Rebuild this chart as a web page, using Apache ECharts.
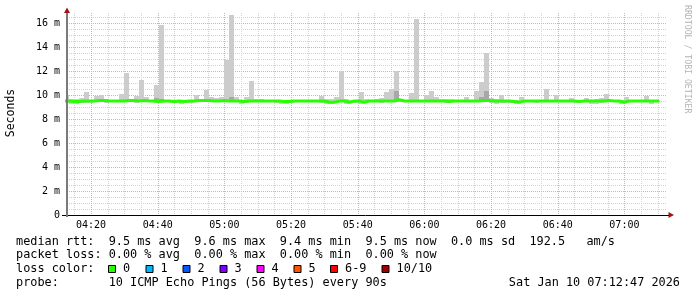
<!DOCTYPE html>
<html><head><meta charset="utf-8">
<script src="https://cdn.jsdelivr.net/npm/echarts@6/dist/echarts.min.js"></script>
<style>html,body{margin:0;padding:0;background:#fff}#c{width:697px;height:297px}</style>
</head><body><div id="c"></div>
<script>
// ---- time frame (minutes after 04:00) ----
const stepMinutes = 1.5;            // 90 s probe step
const firstBarStart = 12;           // 04:12:00
const viewStart = 12 + 47 / 60;     // 04:12:47
const viewEnd = viewStart + 180;    // 07:12:47

const timeLabels = ['04:20','04:40','05:00','05:20','05:40','06:00','06:20','06:40','07:00'];
const minorTimeLabels = ['04:15','04:25','04:30','04:35','04:45','04:50','04:55','05:05','05:10','05:15','05:25','05:30','05:35','05:45','05:50','05:55','06:05','06:10','06:15','06:25','06:30','06:35','06:45','06:50','06:55','07:05','07:10'];
const yMajorTicks = [0, 2, 4, 6, 8, 10, 12, 14, 16];
const yMinorTicks = [0.5,1,1.5,2.5,3,3.5,4.5,5,5.5,6.5,7,7.5,8.5,9,9.5,10.5,11,11.5,12.5,13,13.5,14.5,15,15.5,16.5];

// ---- series values (ms) ----
const medianRtt = [
 9.5,9.45,9.45,9.5,9.5,9.5,9.55,9.55,9.5,9.5,
 9.5,9.5,9.55,9.55,9.5,9.55,9.5,9.5,9.45,9.5,
 9.5,9.45,9.5,9.45,9.5,9.5,9.55,9.55,9.55,9.5,
 9.5,9.55,9.5,9.5,9.5,9.45,9.5,9.5,9.5,9.5,
 9.5,9.5,9.5,9.45,9.45,9.5,9.5,9.5,9.5,9.5,
 9.5,9.5,9.4,9.4,9.5,9.5,9.4,9.5,9.5,9.4,
 9.5,9.5,9.5,9.5,9.5,9.5,9.6,9.5,9.5,9.5,
 9.5,9.5,9.5,9.5,9.5,9.5,9.45,9.5,9.5,9.5,
 9.5,9.5,9.5,9.55,9.55,9.5,9.5,9.5,9.5,9.45,
 9.4,9.5,9.5,9.5,9.5,9.5,9.5,9.5,9.5,9.5,
 9.5,9.5,9.45,9.5,9.5,9.5,9.5,9.5,9.55,9.5,
 9.5,9.4,9.5,9.5,9.5,9.5,9.5,9.5,9.5
];
const smokeMax = [
 10.0,9.65,9.7,9.75,10.25,9.6,9.9,10.0,9.65,9.55,
 9.55,10.05,11.85,9.65,9.9,11.25,9.8,9.55,10.85,15.85,
 9.6,9.55,9.55,9.6,9.55,9.6,10.0,9.65,10.4,9.8,
 9.75,9.8,12.9,16.7,9.8,9.5,9.8,11.15,9.65,9.65,
 9.6,9.6,9.6,9.55,9.5,9.55,9.6,9.6,9.6,9.6,
 9.55,9.9,9.65,9.65,9.8,12.0,9.65,9.6,9.6,10.25,
 9.7,9.6,9.65,9.75,10.25,10.5,12.0,9.55,9.55,10.15,
 16.3,9.6,10.0,10.3,9.8,9.65,9.65,9.65,9.6,9.6,
 9.8,9.6,10.3,11.05,13.5,9.75,9.65,10.0,9.6,9.6,
 9.6,9.8,9.6,9.6,9.55,9.55,10.5,9.55,10.0,9.6,
 9.6,9.75,9.6,9.6,9.75,9.55,9.65,9.75,10.05,9.6,
 9.55,9.55,9.8,9.6,9.6,9.6,9.9,9.55,9.55
];
const smokeMin = [
 9.35,9.28,9.28,9.3,9.35,9.35,9.4,9.4,9.35,9.38,
 9.38,9.38,9.4,9.4,9.35,9.4,9.38,9.38,9.3,9.38,
 9.38,9.3,9.35,9.28,9.35,9.3,9.4,9.4,9.4,9.38,
 9.38,9.4,9.38,9.38,9.38,9.28,9.35,9.38,9.38,9.38,
 9.38,9.38,9.35,9.28,9.28,9.35,9.38,9.38,9.38,9.38,
 9.38,9.35,9.25,9.25,9.35,9.38,9.25,9.35,9.35,9.25,
 9.38,9.38,9.38,9.35,9.38,9.38,9.45,9.38,9.38,9.38,
 9.38,9.38,9.38,9.38,9.38,9.38,9.3,9.38,9.38,9.38,
 9.38,9.38,9.38,9.4,9.4,9.35,9.28,9.3,9.3,9.3,
 9.25,9.38,9.38,9.38,9.35,9.38,9.38,9.38,9.38,9.38,
 9.38,9.38,9.3,9.38,9.38,9.28,9.28,9.3,9.4,9.38,
 9.38,9.25,9.38,9.38,9.38,9.38,9.38,9.28,9.38
];
const darkSmokeBars = [18, 19, 33, 66, 83, 84];
const darkSmokeTop  = [9.75, 9.7, 9.8, 10.3, 9.8, 10.3];

// ---- legend text ----
const legendLine1 = 'median rtt:  9.5 ms avg  9.6 ms max  9.4 ms min  9.5 ms now  0.0 ms sd  192.5   am/s';
const legendLine2 = 'packet loss: 0.00 % avg  0.00 % max  0.00 % min  0.00 % now';
const legendLine3 = 'loss color:';
const legendLine4 = 'probe:       10 ICMP Echo Pings (56 Bytes) every 90s';
const dateText = 'Sat Jan 10 07:12:47 2026';
const lossLabels = ['0','1','2','3','4','5','6-9','10/10'];
const lossColors = ['#26ff00','#00b8ff','#0059ff','#7e00ff','#ff00ff','#ff5500','#ff0000','#a10000'];
const lossSquareX = [108, 145.5, 182.5, 219.5, 256.5, 293.5, 330, 381.5];

// ---- helpers ----
const toMin = s => { const [h, m] = s.split(':').map(Number); return (h - 4) * 60 + m; };
const fmt = v => { const t = Math.round(v); const h = 4 + Math.floor(t / 60), m = t % 60; return String(h).padStart(2,'0') + ':' + String(m).padStart(2,'0'); };
const barStart = i => firstBarStart + stepMinutes * i;

const smokeData = smokeMax.map((hi, i) => [barStart(i), barStart(i + 1), smokeMin[i], hi]);
const darkData = darkSmokeBars.map((b, k) => [barStart(b), barStart(b + 1), medianRtt[b], darkSmokeTop[k]]);
const medianData = medianRtt.map((v, i) => [barStart(i), v]);
medianData.push([barStart(medianRtt.length), medianRtt[medianRtt.length - 1]]);

function rectRenderer(color) {
  return function (params, api) {
    const p0 = api.coord([api.value(0), api.value(3)]);
    const p1 = api.coord([api.value(1), api.value(2)]);
    const cs = params.coordSys;
    const x0 = Math.max(Math.round(p0[0]), cs.x), x1 = Math.min(Math.round(p1[0]), cs.x + cs.width);
    const y0 = Math.round(p0[1]), y1 = Math.round(p1[1]);
    if (x1 <= x0) return null;
    return { type: 'rect', shape: { x: x0, y: y0, width: x1 - x0, height: Math.max(1, y1 - y0) }, style: { fill: color } };
  };
}
function vLineRenderer(color) {
  return function (params, api) {
    const cs = params.coordSys;
    const x = Math.round(api.coord([api.value(0), 0])[0]) + 0.5;
    return { type: 'line', shape: { x1: x, y1: cs.y, x2: x, y2: cs.y + cs.height }, style: { stroke: color, lineWidth: 1, lineDash: [1, 1] } };
  };
}
function hLineRenderer(color) {
  return function (params, api) {
    const cs = params.coordSys;
    const y = Math.round(api.coord([viewStart, api.value(0)])[1]) + 0.5;
    return { type: 'line', shape: { x1: cs.x, y1: y, x2: cs.x + cs.width, y2: y }, style: { stroke: color, lineWidth: 1, lineDash: [1, 1] } };
  };
}

const MONO = '"DejaVu Sans Mono", monospace';
const LEG_FONT = '11.85px ' + MONO;
const chart = echarts.init(document.getElementById('c'), null, { renderer: 'canvas' });

const graphics = [];
[legendLine1, legendLine2, legendLine3, legendLine4].forEach((t, k) => {
  graphics.push({ type: 'text', x: 16, y: [241.7, 255.3, 269.3, 283.3][k],
    style: { text: t, font: LEG_FONT, fill: '#000', align: 'left', verticalAlign: 'middle' } });
});
graphics.push({ type: 'text', x: 680, y: 283.3, style: { text: dateText, font: LEG_FONT, fill: '#000', align: 'right', verticalAlign: 'middle' } });
lossLabels.forEach((lab, k) => {
  graphics.push({ type: 'rect', shape: { x: lossSquareX[k] + 0.5, y: 265.5, width: 7, height: 7 }, style: { fill: lossColors[k], stroke: '#000', lineWidth: 1 } });
  graphics.push({ type: 'text', x: lossSquareX[k] + 15, y: 269.3, style: { text: lab, font: LEG_FONT, fill: '#000', align: 'left', verticalAlign: 'middle' } });
});
graphics.push({ type: 'text', x: 11, y: 113, rotation: Math.PI / 2, style: { text: 'Seconds', font: '11.5px ' + MONO, fill: '#000', align: 'center', verticalAlign: 'middle' } });
graphics.push({ type: 'text', x: 687, y: 5, rotation: -Math.PI / 2, style: { text: 'RRDTOOL / TOBI OETIKER', font: '8.2px ' + MONO, fill: '#b4b4b4', align: 'left', verticalAlign: 'middle' } });
// axis arrows and axis lines
graphics.push({ type: 'polygon', shape: { points: [[67, 7.5], [64, 13], [70, 13]] }, style: { fill: '#a01414' } });
graphics.push({ type: 'polygon', shape: { points: [[674, 215], [668.5, 212], [668.5, 218]] }, style: { fill: '#a01414' } });
graphics.push({ type: 'line', shape: { x1: 62, y1: 215.5, x2: 669, y2: 215.5 }, style: { stroke: '#000', lineWidth: 1 }, z: 100 });
graphics.push({ type: 'line', shape: { x1: 67, y1: 13, x2: 67, y2: 217 }, style: { stroke: '#7a7a7a', lineWidth: 2 }, z: 100 });

chart.setOption({
  animation: false,
  backgroundColor: '#fff',
  grid: { left: 67, top: 13, width: 600, height: 202, containLabel: false },
  xAxis: { type: 'value', min: viewStart, max: viewEnd,
      axisLine: { show: false },
      axisTick: { show: false, customValues: timeLabels.map(toMin) },
      axisLabel: { show: true, customValues: timeLabels.map(toMin), formatter: fmt, margin: 5,
        fontFamily: MONO, fontSize: 10, color: '#000' },
      splitLine: { show: false } },
  yAxis: { type: 'value', min: 0, max: 202 / 12,
      axisLine: { show: false }, axisTick: { show: false, customValues: yMajorTicks },
      axisLabel: { show: true, customValues: yMajorTicks, margin: 7, fontFamily: MONO, fontSize: 10, color: '#000',
        formatter: v => v === 0 ? '0' : v + ' m' },
      splitLine: { show: false } },
  series: [
    { type: 'custom', name: 'minor x grid', renderItem: vLineRenderer('#d2d2d2'), data: minorTimeLabels.map(toMin).map(v => [v]), encode: { x: 0 }, silent: true, z: 1 },
    { type: 'custom', name: 'minor y grid', renderItem: hLineRenderer('#d2d2d2'), data: yMinorTicks.map(v => [v]), encode: { y: 0 }, silent: true, z: 1 },
    { type: 'custom', name: 'major x grid', renderItem: vLineRenderer('#f0a4a4'), data: timeLabels.map(toMin).map(v => [v]), encode: { x: 0 }, silent: true, z: 2 },
    { type: 'custom', name: 'major y grid', renderItem: hLineRenderer('#f0a4a4'), data: yMajorTicks.filter(v => v > 0).map(v => [v]), encode: { y: 0 }, silent: true, z: 2 },
    { type: 'custom', name: 'smoke', renderItem: rectRenderer('#cccccc'),
      data: smokeData, encode: { x: [0, 1], y: [2, 3] }, silent: true, z: 3 },
    { type: 'custom', name: 'dark smoke', renderItem: rectRenderer('#a8a8a8'),
      data: darkData, encode: { x: [0, 1], y: [2, 3] }, silent: true, z: 4 },
    { type: 'line', name: 'median rtt', data: medianData, step: 'end',
      showSymbol: false, symbol: 'none', lineStyle: { color: '#26ff00', width: 3 }, silent: true, z: 5 }
  ],
  graphic: graphics
});
</script></body></html>
